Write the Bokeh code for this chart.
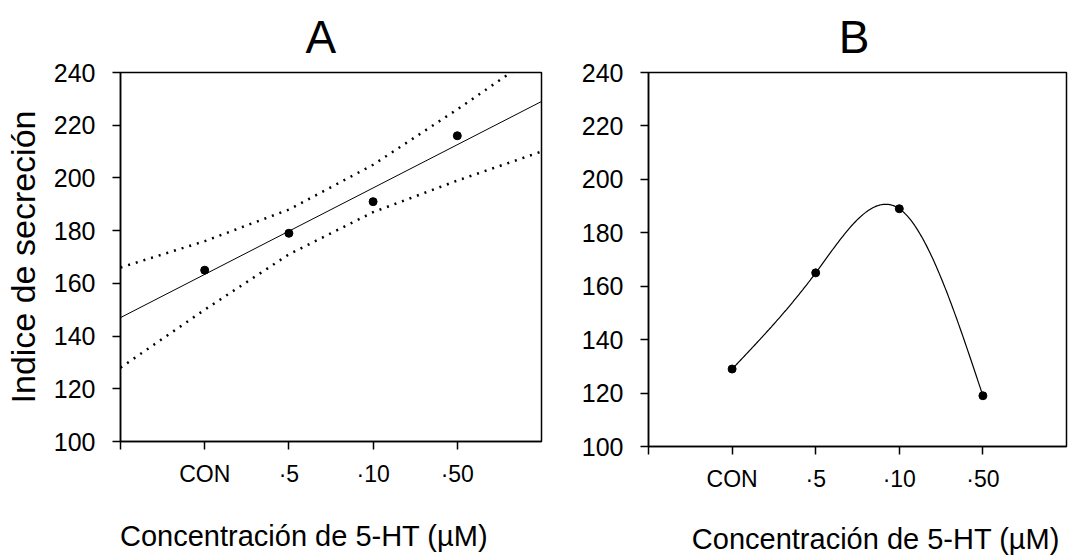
import numpy as np
from bokeh.plotting import figure
from bokeh.layouts import row, column
from bokeh.models import LinearAxis, FixedTicker, Range1d
from bokeh.embed import file_html
from bokeh.resources import INLINE

# ---------------- data ----------------
categories = ["CON", "·5", "·10", "·50"]
cat_pos = [1, 2, 3, 4]
y_ticks = [100, 120, 140, 160, 180, 200, 220, 240]

# Panel A: points, linear fit and its confidence band
a_values = [165, 179, 191, 216]
a_fit_x = [0, 5]
a_fit_y = [147, 229]
a_band_x = [0, 1, 2, 3, 4, 5]
a_upper = [166, 176, 188, 205, 226, 248]
a_lower = [128, 150, 171, 187, 199, 210]

# Panel B: points joined by a smooth curve
b_values = [129, 165, 189, 119]

FONT = "Liberation Sans"
X_LABEL = "Concentración de 5-HT (µM)"
Y_LABEL = "Indice de secreción"


def natural_spline(xs, ys, n=200):
    xs = np.asarray(xs, float)
    ys = np.asarray(ys, float)
    k = len(xs)
    h = np.diff(xs)
    A = np.zeros((k, k))
    r = np.zeros(k)
    A[0, 0] = 1
    A[-1, -1] = 1
    for i in range(1, k - 1):
        A[i, i - 1] = h[i - 1]
        A[i, i] = 2 * (h[i - 1] + h[i])
        A[i, i + 1] = h[i]
        r[i] = 6 * ((ys[i + 1] - ys[i]) / h[i] - (ys[i] - ys[i - 1]) / h[i - 1])
    M = np.linalg.solve(A, r)
    xx = np.linspace(xs[0], xs[-1], n)
    yy = np.empty_like(xx)
    for j, x in enumerate(xx):
        i = min(np.searchsorted(xs, x, side="right") - 1, k - 2)
        hi = h[i]
        a = (xs[i + 1] - x) / hi
        b = (x - xs[i]) / hi
        yy[j] = (a * ys[i] + b * ys[i + 1]
                 + ((a ** 3 - a) * M[i] + (b ** 3 - b) * M[i + 1]) * hi * hi / 6)
    return xx, yy


def text_axis(p, where, pos, text, size, standoff):
    """An axis without line or ticks that carries a single text label."""
    ax = LinearAxis(ticker=FixedTicker(ticks=[pos]),
                    major_label_overrides={pos: text},
                    axis_line_color=None, major_tick_line_color=None,
                    minor_tick_line_color=None,
                    major_label_standoff=standoff,
                    major_label_text_font=FONT,
                    major_label_text_font_size=size,
                    major_label_text_color="black")
    p.add_layout(ax, where)


def make_fig(width, height, bl, br, bt, bb):
    p = figure(width=width, height=height, min_border_left=bl, min_border_right=br,
               min_border_top=bt, min_border_bottom=bb,
               x_range=Range1d(0, 5), y_range=Range1d(100, 240),
               output_backend="svg", toolbar_location=None)
    p.xgrid.visible = False
    p.ygrid.visible = False
    p.outline_line_color = "black"
    p.outline_line_width = 1.5
    p.outline_line_alpha = 1
    p.background_fill_color = "white"
    p.border_fill_color = "white"

    p.xaxis.ticker = FixedTicker(ticks=[0] + cat_pos)
    ov = {0: ""}
    for pos, c in zip(cat_pos, categories):
        ov[pos] = c
    p.xaxis.major_label_overrides = ov
    p.yaxis.ticker = FixedTicker(ticks=y_ticks)
    for ax in (p.xaxis, p.yaxis):
        ax.axis_line_color = "black"
        ax.axis_line_width = 1.5
        ax.major_tick_line_color = "black"
        ax.major_tick_line_width = 1.5
        ax.major_tick_out = 8
        ax.major_tick_in = 0
        ax.minor_tick_line_color = None
        ax.major_label_text_font = FONT
        ax.major_label_text_color = "black"
    p.xaxis.major_label_text_font_size = "23px"
    p.yaxis.major_label_text_font_size = "25px"
    p.xaxis.major_label_standoff = 11
    p.yaxis.major_label_standoff = 17
    return p


# ---------------- Panel A ----------------
pa = make_fig(578, 559, 118, 37, 72, 118)
pa.yaxis.axis_label = Y_LABEL
pa.yaxis.axis_label_text_font = FONT
pa.yaxis.axis_label_text_font_size = "34px"
pa.yaxis.axis_label_text_font_style = "normal"
pa.yaxis.axis_label_text_color = "black"
pa.yaxis.axis_label_standoff = 9

pa.line(a_band_x, a_upper, line_color="black", line_width=2.5, line_dash="2 6")
pa.line(a_band_x, a_lower, line_color="black", line_width=2.5, line_dash="2 6")
pa.line(a_fit_x, a_fit_y, line_color="black", line_width=1)
pa.scatter(cat_pos, a_values, size=8, color="black")
text_axis(pa, "above", 2.38, "A", "46px", 4)
text_axis(pa, "below", 2.18, X_LABEL, "29px", 24)

# ---------------- Panel B ----------------
pb = make_fig(493, 559, 64, 5, 72, 113)
sx, sy = natural_spline(cat_pos, b_values)
pb.line(sx, sy, line_color="black", line_width=1.2)
pb.scatter(cat_pos, b_values, size=8, color="black")
text_axis(pb, "above", 2.46, "B", "46px", 4)
text_axis(pb, "below", 2.72, X_LABEL, "29px", 22)

layout = row(pa, column(pb))
open("out.html", "w").write(file_html(layout, INLINE))
